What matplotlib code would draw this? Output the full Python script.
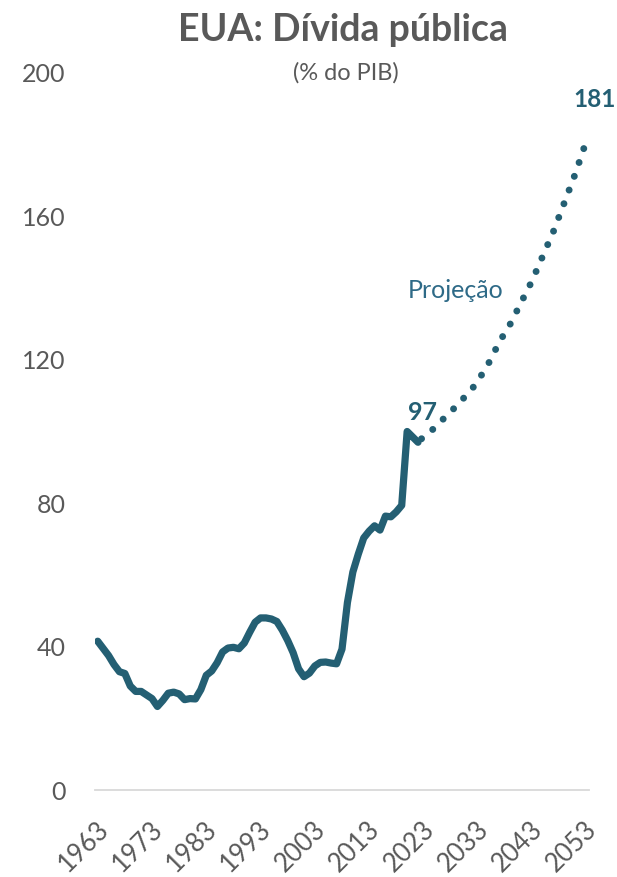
import matplotlib
matplotlib.use("Agg")
import matplotlib.pyplot as plt
from matplotlib.transforms import ScaledTranslation

plt.rcParams['font.family'] = ['Lato', 'DejaVu Sans']

# historical debt, % of GDP
hist_years = list(range(1963, 2023))
hist_debt = [41.5, 39.5, 37.5, 35.0, 33.0, 32.5, 29.0, 27.5, 27.5, 26.5,
             25.5, 23.3, 25.0, 27.0, 27.3, 26.8, 25.2, 25.5, 25.4, 28.0,
             32.0, 33.2, 35.5, 38.5, 39.6, 39.8, 39.4, 41.0, 44.0, 46.8,
             48.0, 48.0, 47.7, 47.0, 44.6, 41.7, 38.3, 33.8, 31.6, 32.6,
             34.6, 35.6, 35.7, 35.4, 35.2, 39.3, 52.3, 60.8, 65.8, 70.3,
             72.2, 73.7, 72.5, 76.4, 76.2, 77.6, 79.4, 100.0, 98.5, 97.0]

# projection
proj_years = list(range(2022, 2054))
proj_debt = [97.0, 98.5, 99.5, 101.0, 102.5, 104.0, 105.5, 107.0, 108.5, 110.5,
             112.0, 114.0, 116.5, 119.0, 122.0, 125.0, 127.5, 130.0, 133.0, 136.0,
             139.0, 142.0, 145.5, 149.0, 152.5, 156.0, 160.0, 164.0, 168.0, 172.0,
             176.5, 181.0]

xticks = list(range(1963, 2054, 10))
yticks = [0, 40, 80, 120, 160, 200]

teal = '#245F73'
grey = '#595959'

fig = plt.figure(figsize=(6.17, 8.77), dpi=100)
ax = fig.add_axes([95/617, 1 - 790/877, (589 - 95)/617, (790 - 73)/877])

ax.plot(hist_years, hist_debt, color=teal, lw=5.2, solid_capstyle='round',
        solid_joinstyle='round')
ax.plot(proj_years, proj_debt, color=teal, lw=5.0, linestyle=(1.4, (0.01, 2.1)),
        dash_capstyle='round')

ax.annotate('97', (2022, 97), xytext=(3, 13), textcoords='offset points',
            ha='center', va='bottom', fontsize=18, fontweight='bold', color=teal)
ax.annotate('181', (2053, 181), xytext=(6, 22), textcoords='offset points',
            ha='center', va='bottom', fontsize=17.5, fontweight='bold', color=teal)
ax.text(2020.2, 139.3, 'Projeção', fontsize=18, color='#2E6A87', ha='left', va='center')

ax.set_xlim(1962.5, 2053.5)
ax.set_ylim(0, 200)
ax.set_xticks(xticks)
ax.set_yticks(yticks)
ax.set_xticklabels([str(y) for y in xticks], rotation=45, ha='right',
                   rotation_mode='anchor')

for s in ['top', 'right', 'left']:
    ax.spines[s].set_visible(False)
ax.spines['bottom'].set_color('#D9D9D9')
ax.spines['bottom'].set_linewidth(1.3)
ax.tick_params(axis='both', length=0, colors=grey, labelsize=18)
ax.tick_params(axis='x', labelsize=18.5)
ax.tick_params(axis='y', pad=21)
ax.tick_params(axis='x', pad=19)
shift = ScaledTranslation(-2/100, 0, fig.dpi_scale_trans)
for lab in ax.get_xticklabels():
    lab.set_transform(lab.get_transform() + shift)

fig.text(343/617, 0.966, 'EUA: Dívida pública', ha='center', va='center',
         fontsize=27, fontweight='bold', color=grey)
fig.text(346/617, 1 - 73/877, '(% do PIB)', ha='center', va='center',
         fontsize=17, color=grey)

fig.savefig('out.png', dpi=100)
